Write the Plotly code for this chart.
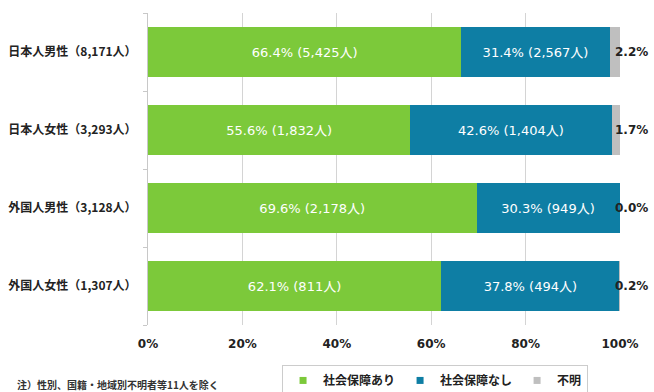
import plotly.graph_objects as go

categories = ["日本人男性（8,171人）", "日本人女性（3,293人）", "外国人男性（3,128人）", "外国人女性（1,307人）"]
with_ss_pct = [66.4, 55.6, 69.6, 62.1]
with_ss_n = ["5,425", "1,832", "2,178", "811"]
without_ss_pct = [31.4, 42.6, 30.3, 37.8]
without_ss_n = ["2,567", "1,404", "949", "494"]
unknown_pct = [2.2, 1.7, 0.0, 0.2]
series_names = ["社会保障あり", "社会保障なし", "不明"]
x_ticks = [0, 20, 40, 60, 80, 100]
x_tick_labels = ["0%", "20%", "40%", "60%", "80%", "100%"]
note = "注）性別、国籍・地域別不明者等11人を除く"

FONT = "Noto Sans CJK JP"
LATIN = "DejaVu Sans, Noto Sans CJK JP"
GREEN = "#7CC93A"
BLUE = "#0E7EA4"
GRAY = "#BFBFBF"
colors = [GREEN, BLUE, GRAY]

fig = go.Figure()
fig.add_trace(go.Bar(
    y=categories, x=with_ss_pct, orientation="h", name=series_names[0],
    marker=dict(color=GREEN, line=dict(width=0)), showlegend=False,
    text=[f"{p:.1f}% ({n}人)" for p, n in zip(with_ss_pct, with_ss_n)],
    textposition="inside", insidetextanchor="middle",
    textfont=dict(color="white", size=13, family=LATIN),
))
fig.add_trace(go.Bar(
    y=categories, x=without_ss_pct, orientation="h", name=series_names[1],
    marker=dict(color=BLUE, line=dict(width=0)), showlegend=False,
    text=[f"{p:.1f}% ({n}人)" for p, n in zip(without_ss_pct, without_ss_n)],
    textposition="inside", insidetextanchor="middle",
    textfont=dict(color="white", size=13, family=LATIN),
))
fig.add_trace(go.Bar(
    y=categories, x=unknown_pct, orientation="h", name=series_names[2],
    marker=dict(color=GRAY, line=dict(width=0)), showlegend=False,
    textposition="none",
))

# legend entries with small square swatches
for name, col in zip(series_names, colors):
    fig.add_trace(go.Scatter(
        x=[None], y=[None], mode="markers", name=f"<b>{name}</b>",
        marker=dict(symbol="square", size=7, color=col), showlegend=True,
    ))

for c, u in zip(categories, unknown_pct):
    fig.add_annotation(x=100, y=c, xref="x", yref="y", text=f"<b>{u:.1f}%</b>",
                       showarrow=False, xanchor="left", xshift=-7,
                       font=dict(size=12, color="#222222", family=LATIN))

fig.add_annotation(x=-0.282, y=-0.192, xref="paper", yref="paper", text=f"<b>{note}</b>",
                   showarrow=False, xanchor="left", yanchor="middle",
                   font=dict(size=10, color="#333333", family=FONT))

fig.update_layout(
    width=654, height=392,
    margin=dict(l=148, r=34, t=13, b=67, autoexpand=False),
    barmode="stack", bargap=0.37,
    plot_bgcolor="white", paper_bgcolor="white",
    font=dict(family=FONT, size=12, color="#222222"),
    showlegend=True,
    legend=dict(orientation="h", x=0.284, y=-0.128, xanchor="left", yanchor="top",
                bordercolor="#CCCCCC", borderwidth=1,
                font=dict(size=12, family=FONT, color="#222222"),
                traceorder="normal", itemwidth=30),
    xaxis=dict(range=[0, 100], tickvals=x_ticks, ticktext=[f"<b>{t}</b>" for t in x_tick_labels],
               showgrid=True, gridcolor="#D4D4D4", gridwidth=1, zeroline=False,
               showline=False, ticks="", ticklabelstandoff=10,
               tickfont=dict(size=12, family=LATIN, color="#222222")),
    yaxis=dict(autorange="reversed", showline=True, linecolor="#C8C8C8", linewidth=1,
               ticks="outside", ticklen=4, tickcolor="#C8C8C8", tickson="boundaries",
               ticktext=[f"<b>{c}</b>" for c in categories], tickvals=categories,
               ticklabelstandoff=8,
               tickfont=dict(size=12, family=FONT, color="#222222")),
)

fig.write_html("out.html")
